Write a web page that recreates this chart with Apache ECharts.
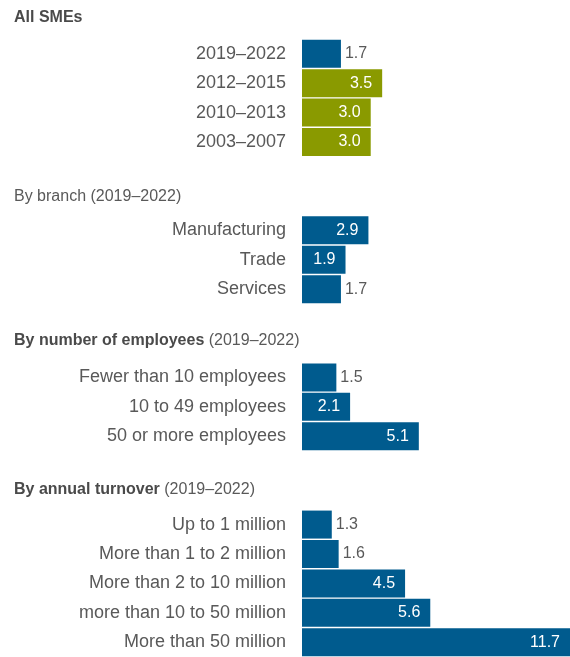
<!DOCTYPE html>
<html>
<head>
<meta charset="utf-8">
<script src="https://cdn.jsdelivr.net/npm/echarts@6/dist/echarts.min.js"></script>
<style>
html,body{margin:0;padding:0;background:#fff;}
#chart{width:570px;height:657px;}
</style>
</head>
<body>
<div id="chart"></div>
<script>
// ---- data ----
const allSMEsCategories = ['2019–2022', '2012–2015', '2010–2013', '2003–2007'];
const allSMEsValues = [1.7, 3.5, 3.0, 3.0];
const allSMEsColors = ['blue', 'olive', 'olive', 'olive'];

const branchCategories = ['Manufacturing', 'Trade', 'Services'];
const branchValues = [2.9, 1.9, 1.7];

const employeeCategories = ['Fewer than 10 employees', '10 to 49 employees', '50 or more employees'];
const employeeValues = [1.5, 2.1, 5.1];

const turnoverCategories = ['Up to 1 million', 'More than 1 to 2 million', 'More than 2 to 10 million', 'more than 10 to 50 million', 'More than 50 million'];
const turnoverValues = [1.3, 1.6, 4.5, 5.6, 11.7];

const headerAllSMEs = {bold: 'All SMEs', normal: ''};
const headerBranch = {bold: '', normal: 'By branch (2019–2022)'};
const headerEmployees = {bold: 'By number of employees', normal: '(2019–2022)'};
const headerTurnover = {bold: 'By annual turnover', normal: '(2019–2022)'};

// ---- build ----
const BLUE = '#005B8E', OLIVE = '#8A9A00';
const FONT = '"Liberation Sans", Arial, sans-serif';
const categories = [];
const data = [];
function addGroup(cats, vals, colors) {
  cats.forEach((c, i) => {
    categories.push(c);
    const col = colors && colors[i] === 'olive' ? OLIVE : BLUE;
    const inside = vals[i] >= 1.9;
    data.push({
      value: vals[i],
      itemStyle: {color: col},
      label: inside
        ? {position: 'insideRight', color: '#ffffff', distance: 10}
        : {position: 'right', color: '#595959', distance: 4}
    });
  });
}
function addBlank(n) { for (let i = 0; i < n; i++) { categories.push(''); data.push('-'); } }

addGroup(allSMEsCategories, allSMEsValues, allSMEsColors);
addBlank(2);
addGroup(branchCategories, branchValues);
addBlank(2);
addGroup(employeeCategories, employeeValues);
addBlank(2);
addGroup(turnoverCategories, turnoverValues);

function header(h, y) {
  let txt = '';
  if (h.bold) txt += '{b|' + h.bold + '}';
  if (h.bold && h.normal) txt += '{n| }';
  if (h.normal) txt += '{n|' + h.normal + '}';
  return {
    type: 'text', x: 14, y: y,
    style: {
      text: txt, verticalAlign: 'middle', align: 'left',
      rich: {
        b: {fontFamily: FONT, fontSize: 16, fontWeight: 'bold', fill: '#4a4a4a'},
        n: {fontFamily: FONT, fontSize: 16, fill: '#595959'}
      }
    }
  };
}

const chart = echarts.init(document.getElementById('chart'), null, {renderer: 'canvas'});
chart.setOption({
  animation: false,
  backgroundColor: '#ffffff',
  grid: {left: 302, right: 0, top: 39, height: 621, containLabel: false},
  xAxis: {type: 'value', min: 0, max: 11.7, show: false},
  yAxis: {
    type: 'category', inverse: true, data: categories,
    axisLine: {show: false}, axisTick: {show: false}, splitLine: {show: false},
    axisLabel: {fontFamily: FONT, fontSize: 18, color: '#595959', margin: 16, interval: 0}
  },
  series: [{
    type: 'bar', data: data, barWidth: 28,
    label: {show: true, fontFamily: FONT, fontSize: 16, formatter: p => Number(p.value).toFixed(1)}
  }],
  graphic: [
    header(headerAllSMEs, 18),
    header(headerBranch, 197),
    header(headerEmployees, 341),
    header(headerTurnover, 490)
  ]
});
</script>
</body>
</html>
